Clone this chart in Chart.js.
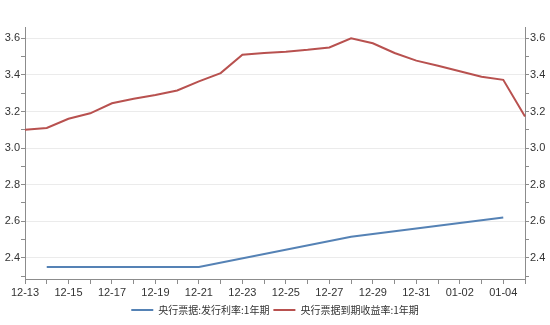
<!DOCTYPE html>
<html>
<head>
<meta charset="utf-8">
<script src="https://cdn.jsdelivr.net/npm/chart.js@4.4.1/dist/chart.umd.min.js"></script>
<style>
html,body{margin:0;padding:0;background:#fff;}
#wrap{width:550px;height:325px;position:relative;}
</style>
</head>
<body>
<div id="wrap"><canvas id="c" width="550" height="325"></canvas></div>
<script>
const categories = ["12-13","12-14","12-15","12-16","12-17","12-18","12-19","12-20","12-21","12-22","12-23","12-24","12-25","12-26","12-27","12-28","12-29","12-30","12-31","01-01","01-02","01-03","01-04","01-05"];
const issueRate = [null,2.35,null,null,null,null,null,null,2.35,null,null,null,null,null,null,2.515,null,null,null,null,null,null,2.62,null];
const maturityYield = [3.10,3.11,3.16,3.19,3.245,3.27,3.29,3.315,3.365,3.41,3.51,3.52,3.527,3.537,3.55,3.60,3.573,3.52,3.478,3.45,3.42,3.39,3.373,3.173];
const yTicks = [2.3,2.4,2.5,2.6,2.7,2.8,2.9,3.0,3.1,3.2,3.3,3.4,3.5,3.6];
const seriesNames = ["央行票据:发行利率:1年期","央行票据到期收益率:1年期"];

const YMIN = 2.284, YMAX = 3.662;
const tickFont = {family:"'Liberation Sans', Arial, sans-serif", size:11};
const isMajor = v => Math.round(v*10) % 2 === 0;
function yAxis(pos){
  return {
    type:'linear', position:pos, min:YMIN, max:YMAX,
    afterBuildTicks: s => { s.ticks = yTicks.map(v => ({value:v})); },
    afterFit: s => { s.width = 25; },
    border:{display:true, color:'#8c8c8c', width:1},
    grid:{
      display:true,
      drawOnChartArea: pos === 'left',
      color: ctx => (ctx.tick && isMajor(ctx.tick.value)) ? '#ebebeb' : 'rgba(0,0,0,0)',
      tickColor:'#8c8c8c', tickLength:4, lineWidth:1
    },
    ticks:{
      color:'#333', font:tickFont, padding:1,
      callback: v => isMajor(v) ? v.toFixed(1) : ''
    }
  };
}

new Chart(document.getElementById('c'), {
  type:'line',
  data:{
    labels:categories,
    datasets:[
      {label:seriesNames[0], data:issueRate, borderColor:'#5582b5', backgroundColor:'#5582b5', borderWidth:2, pointRadius:0, spanGaps:true, tension:0, yAxisID:'y'},
      {label:seriesNames[1], data:maturityYield, borderColor:'#b8514f', backgroundColor:'#b8514f', borderWidth:2, pointRadius:0, spanGaps:true, tension:0, yAxisID:'y1'}
    ]
  },
  options:{
    responsive:false, animation:false,
    layout:{padding:{top:27, left:0, right:0, bottom:0}},
    plugins:{
      tooltip:{enabled:false},
      legend:{
        position:'bottom',
        labels:{
          font:{family:"'Noto Sans CJK SC', sans-serif", size:10},
          color:'#333', boxWidth:22, boxHeight:2, padding:4,
          generateLabels: chart => chart.data.datasets.map((d,i)=>({
            text:d.label, fillStyle:d.borderColor, strokeStyle:d.borderColor, lineWidth:0, datasetIndex:i, fontColor:'#333'
          }))
        }
      }
    },
    scales:{
      x:{
        type:'category', offset:false,
        afterFit: s => { s.height = 22; },
        border:{display:true, color:'#8c8c8c', width:1},
        grid:{display:true, drawOnChartArea:false, tickColor:'#8c8c8c', tickLength:5},
        ticks:{
          autoSkip:false, maxRotation:0, color:'#333', font:tickFont, padding:2,
          callback: function(v, i){ return (i % 2 === 0 && i < 23) ? this.getLabelForValue(v) : ''; }
        }
      },
      y: yAxis('left'),
      y1: yAxis('right')
    }
  }
});
</script>
</body>
</html>
